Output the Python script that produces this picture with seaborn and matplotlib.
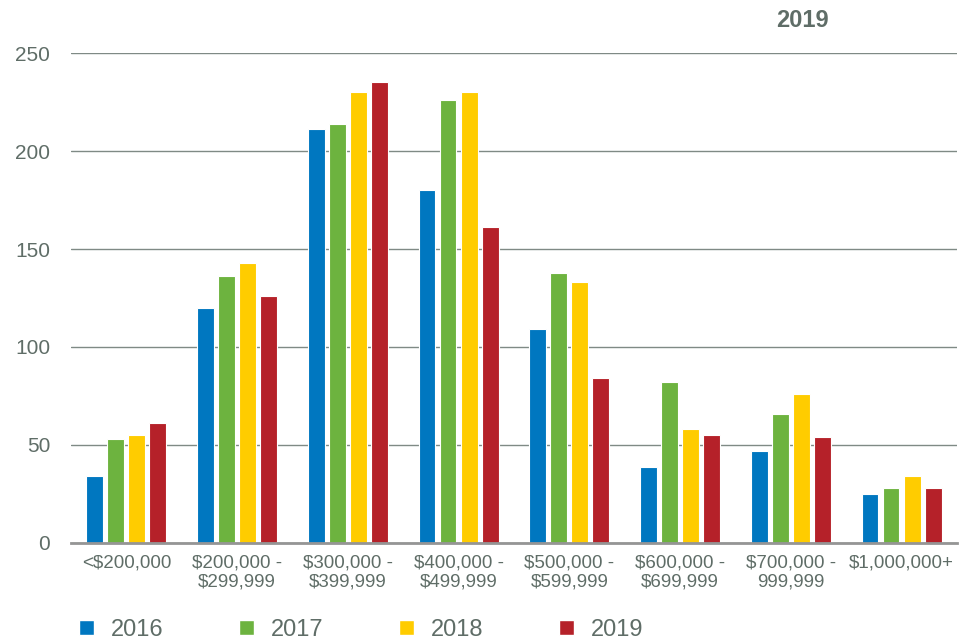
import matplotlib
matplotlib.use("Agg")
import matplotlib.pyplot as plt
import seaborn as sns
import pandas as pd
from matplotlib.patches import Patch

categories = ["<$200,000", "$200,000 -\n$299,999", "$300,000 -\n$399,999", "$400,000 -\n$499,999",
              "$500,000 -\n$599,999", "$600,000 -\n$699,999", "$700,000 -\n999,999", "$1,000,000+"]
years = ["2016", "2017", "2018", "2019"]
v2016 = [34, 120, 211, 180, 109, 39, 47, 25]
v2017 = [53, 136, 214, 226, 138, 82, 66, 28]
v2018 = [55, 143, 230, 230, 133, 58, 76, 34]
v2019 = [61, 126, 235, 161, 84, 55, 54, 28]
colors = ["#0077c0", "#6db33f", "#ffcc00", "#b52129"]

rows = []
for y, vals in zip(years, [v2016, v2017, v2018, v2019]):
    for c, v in zip(categories, vals):
        rows.append({"category": c, "year": y, "value": v})
df = pd.DataFrame(rows)

sns.set_style("white")
plt.rcParams['font.family'] = ['Liberation Sans', 'DejaVu Sans']
txt = "#5f6d67"

fig = plt.figure(figsize=(9.68, 6.41), dpi=100)
ax = fig.add_axes([0.0733, 0.1529, 0.9153, 0.7644])
sns.barplot(data=df, x="category", y="value", hue="year", order=categories, hue_order=years,
            palette=colors, saturation=1, width=0.76, gap=0.2, ax=ax, legend=False,
            edgecolor="white", linewidth=0.8)
ax.set_ylim(0, 250)
ax.set_xlim(-0.5, len(categories) - 0.5)
ax.set_yticks([0, 50, 100, 150, 200, 250])
ax.yaxis.grid(True, color="#7f8a85", linewidth=1)
ax.set_axisbelow(True)
for s in ["top", "right", "left"]:
    ax.spines[s].set_visible(False)
ax.spines["bottom"].set_color("#959595")
ax.spines["bottom"].set_linewidth(2)
ax.set_xlabel("")
ax.set_ylabel("")
ax.tick_params(axis="y", length=0, labelsize=15, labelcolor=txt, pad=15)
ax.tick_params(axis="x", length=0, labelsize=13.5, labelcolor=txt, pad=8)

fig.text(0.829, 0.968, "2019", ha="center", va="center", fontsize=17, fontweight="bold", color=txt)

handles = [Patch(facecolor=c, label=y) for c, y in zip(colors, years)]
fig.legend(handles=handles, loc="center left", bbox_to_anchor=(0.082, 0.017), ncol=4, frameon=False,
           fontsize=17, labelcolor=txt, handlelength=0.6, handleheight=0.6, handletextpad=0.75,
           columnspacing=3.2, borderpad=0, borderaxespad=0)

fig.savefig("out.png", dpi=100)
